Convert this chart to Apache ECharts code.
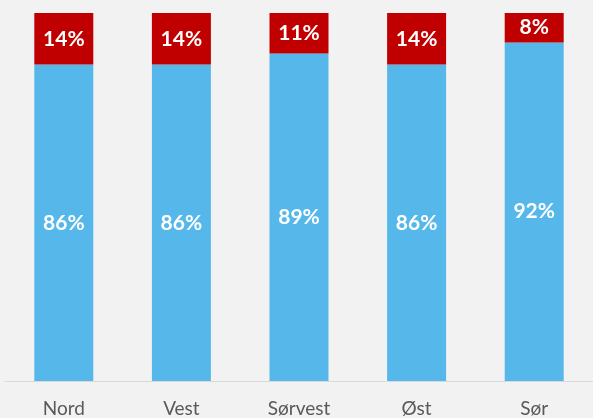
<!DOCTYPE html>
<html>
<head>
<meta charset="utf-8">
<script src="https://cdn.jsdelivr.net/npm/echarts@6/dist/echarts.min.js"></script>
<style>html,body{margin:0;padding:0;background:#f2f2f2;}#c{width:593px;height:418px;}</style>
</head>
<body>
<div id="c"></div>
<script>
const categories = ['Nord', 'Vest', 'Sørvest', 'Øst', 'Sør'];
const blueValues = [86, 86, 89, 86, 92];
const redValues = [14, 14, 11, 14, 8];

const chart = echarts.init(document.getElementById('c'), null, {renderer: 'canvas'});
const lbl = {
  show: true, position: 'inside', color: '#ffffff', fontFamily: 'Lato',
  fontWeight: 'bold', fontSize: 21, formatter: p => p.value + '%'
};
chart.setOption({
  backgroundColor: '#f2f2f2',
  animation: false,
  grid: {left: 5, right: 0, top: 13, bottom: 37, containLabel: false},
  xAxis: {
    type: 'category', data: categories,
    axisLine: {lineStyle: {color: '#d9d9d9', width: 1}},
    axisTick: {show: false},
    axisLabel: {color: '#595959', fontFamily: 'Lato', fontSize: 19, margin: 18}
  },
  yAxis: {type: 'value', min: 0, max: 100, show: false, splitLine: {show: false}},
  series: [
    {type: 'bar', stack: 's', data: blueValues, barWidth: 59, itemStyle: {color: '#56b8ea'}, label: lbl},
    {type: 'bar', stack: 's', data: redValues, barWidth: 59, itemStyle: {color: '#c00000'}, label: lbl}
  ]
});
</script>
</body>
</html>
